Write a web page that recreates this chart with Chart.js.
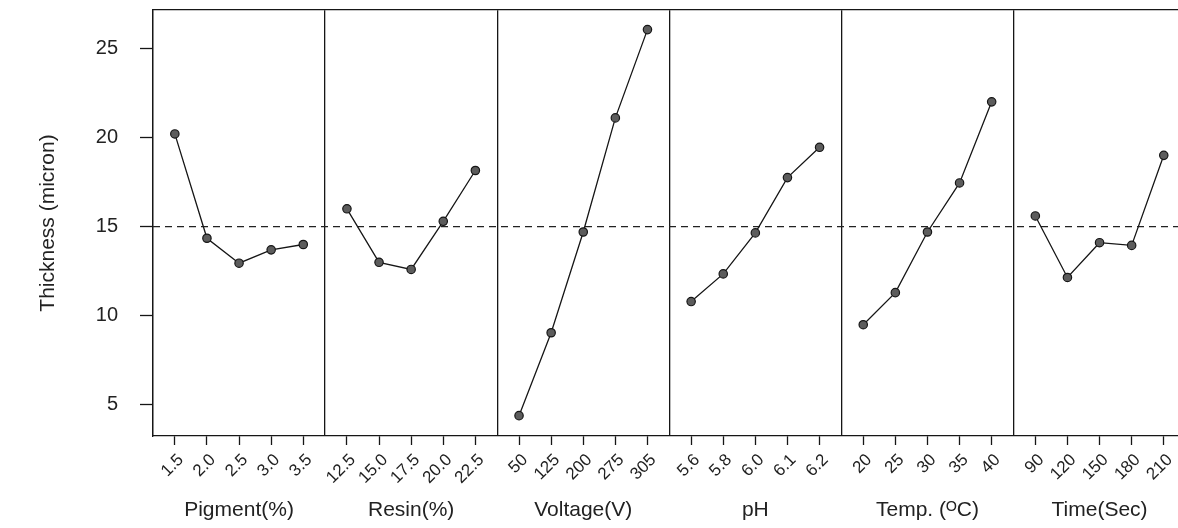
<!DOCTYPE html>
<html><head><meta charset="utf-8">
<script src="https://cdn.jsdelivr.net/npm/chart.js@4"></script>
<style>
html,body{margin:0;padding:0;overflow:hidden;background:#fff;width:1178px;height:528px;}
#wrap{position:absolute;left:0;top:0;width:1191px;height:528px;}
</style></head><body>
<div id="wrap"><canvas id="c"></canvas></div>
<script>
// ---- data ----
const factors = ['Pigment(%)', 'Resin(%)', 'Voltage(V)', 'pH', 'Temp. (ᴼC)', 'Time(Sec)'];
const pigmentLevels = ['1.5', '2.0', '2.5', '3.0', '3.5'];
const resinLevels   = ['12.5', '15.0', '17.5', '20.0', '22.5'];
const voltageLevels = ['50', '125', '200', '275', '305'];
const phLevels      = ['5.6', '5.8', '6.0', '6.1', '6.2'];
const tempLevels    = ['20', '25', '30', '35', '40'];
const timeLevels    = ['90', '120', '150', '180', '210'];

const pigmentValues = [20.2, 14.35, 12.95, 13.7, 14.0];
const resinValues   = [16.0, 13.0, 12.6, 15.3, 18.15];
const voltageValues = [4.4, 9.05, 14.7, 21.1, 26.05];
const phValues      = [10.8, 12.35, 14.65, 17.75, 19.45];
const tempValues    = [9.5, 11.3, 14.7, 17.45, 22.0];
const timeValues    = [15.6, 12.15, 14.1, 13.95, 19.0];

const grandMean = 15.0;
const yTickValues = [5, 10, 15, 20, 25];
const yMin = 3.26, yMax = 27.15;

// ---- build ----
const levelLists = [pigmentLevels, resinLevels, voltageLevels, phLevels, tempLevels, timeLevels];
const seriesValues = [pigmentValues, resinValues, voltageValues, phValues, tempValues, timeValues];
const PANEL = 5.36;
const OFFSET = (PANEL - 4) / 2;
const xOf = (i, j) => i * PANEL + OFFSET + j;
const XMAX = factors.length * PANEL;

const pointPositions = [], flatLabels = [];
levelLists.forEach((lv, i) => lv.forEach((l, j) => { pointPositions.push(xOf(i, j)); flatLabels.push(l); }));
const boundaries = factors.map((f, i) => i * PANEL).concat([XMAX]);
const centers = factors.map((f, i) => i * PANEL + PANEL / 2);

const INK = '#161616';
const FONT = "'Liberation Sans', Arial, sans-serif";

const datasets = seriesValues.map((vals, i) => ({
  label: factors[i],
  data: vals.map((v, j) => ({x: xOf(i, j), y: v})),
  borderColor: INK,
  borderWidth: 1.3,
  pointRadius: 4.2,
  pointBackgroundColor: '#5c5c5c',
  pointBorderColor: INK,
  pointBorderWidth: 1.2,
  tension: 0,
  xAxisID: 'x', yAxisID: 'y'
}));
datasets.push({
  label: 'mean',
  data: [{x: 0, y: grandMean}, {x: XMAX, y: grandMean}],
  borderColor: '#222',
  borderWidth: 1.1,
  borderDash: [7, 5],
  pointRadius: 0,
  xAxisID: 'x', yAxisID: 'y'
});

new Chart(document.getElementById('c'), {
  type: 'line',
  data: {datasets},
  options: {
    responsive: true,
    maintainAspectRatio: false,
    animation: false,
    layout: {padding: {top: 10, left: 0, right: 0, bottom: 0}},
    plugins: {legend: {display: false}, tooltip: {enabled: false}},
    scales: {
      x: {
        type: 'linear', position: 'bottom', min: 0, max: XMAX, weight: 0,
        afterBuildTicks: s => { s.ticks = pointPositions.map(v => ({value: v})); },
        ticks: {
          autoSkip: false, minRotation: 45, maxRotation: 45, padding: 5, labelOffset: 6,
          color: '#1e1e1e', font: {family: FONT, size: 17},
          callback: (v, i) => flatLabels[i]
        },
        grid: {drawOnChartArea: false, drawTicks: true, tickLength: 9, tickColor: INK, tickWidth: 1.3},
        border: {display: true, color: INK, width: 1.3},
        afterFit: s => { s.height = 62; s.paddingLeft = 0; s.paddingRight = 0; }
      },
      x3: {
        type: 'linear', position: 'bottom', min: 0, max: XMAX, weight: 1,
        afterBuildTicks: s => { s.ticks = centers.map(v => ({value: v})); },
        ticks: {
          autoSkip: false, minRotation: 0, maxRotation: 0, padding: 0,
          color: '#222', font: {family: FONT, size: 21},
          callback: (v, i) => factors[i]
        },
        grid: {display: false, drawTicks: false},
        border: {display: false},
        afterFit: s => { s.height = 30; s.paddingLeft = 0; s.paddingRight = 0; }
      },
      x2: {
        type: 'linear', position: 'top', min: 0, max: XMAX,
        afterBuildTicks: s => { s.ticks = boundaries.map(v => ({value: v})); },
        ticks: {display: false},
        grid: {drawOnChartArea: true, drawTicks: false, color: INK, lineWidth: 1.3},
        border: {display: true, color: INK, width: 1.3},
        afterFit: s => { s.height = 0; }
      },
      y: {
        type: 'linear', position: 'left', min: yMin, max: yMax,
        afterBuildTicks: s => { s.ticks = yTickValues.map(v => ({value: v})); },
        ticks: {color: '#222', font: {family: FONT, size: 20}, padding: 22},
        grid: {drawOnChartArea: false, drawTicks: true, tickLength: 13, tickColor: INK, tickWidth: 1.3},
        border: {display: true, color: INK, width: 1.3},
        title: {display: true, text: 'Thickness (micron)', color: '#222',
                font: {family: FONT, size: 21}, padding: {top: 36, bottom: 0}},
        afterFit: s => { s.width = 153; s.paddingTop = 0; s.paddingBottom = 0; }
      }
    }
  }
});
</script>
</body></html>
